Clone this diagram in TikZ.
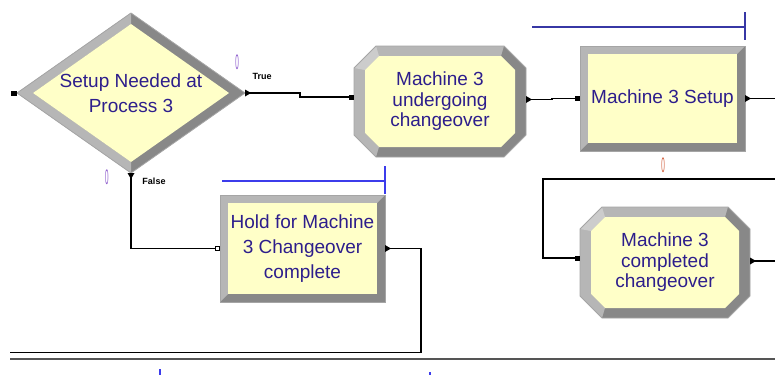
\documentclass[tikz,border=0pt]{standalone}
\usepackage{fontspec}
\setmainfont{Liberation Sans}
\usetikzlibrary{arrows.meta,shapes.geometric,calc}
\pgfdeclarelayer{background}
\pgfsetlayers{background,main}

\definecolor{modfill}{RGB}{255,255,200}
\definecolor{bevlight}{RGB}{182,182,182}
\definecolor{bevdark}{RGB}{136,136,136}
\definecolor{bevedge}{RGB}{165,165,165}
\definecolor{modtext}{RGB}{45,30,140}
\definecolor{queuenavy}{RGB}{55,55,165}
\definecolor{queueblue}{RGB}{60,60,235}
\definecolor{countpurple}{RGB}{140,90,205}
\definecolor{countorange}{RGB}{210,95,60}
\definecolor{rulegray}{RGB}{85,85,85}

\tikzset{
  module/.style={shape=rectangle, inner sep=0pt, outer sep=0pt, align=center,
    text=modtext, font=\fontsize{19}{20.5}\selectfont},
  conn/.style={draw=black, line width=1.1pt},
  entrysq/.style={-{Square[length=5pt,width=5pt]}},
  holdsq/.style={-{Square[open,length=5pt,width=5pt]}},
  counter/.style={font=\fontsize{21}{21}\selectfont, inner sep=0pt},
  branch/.style={font=\bfseries\fontsize{9}{9}\selectfont, inner sep=0pt},
}

% bevelled rectangle behind a module node
\newcommand\rectbevel[2]{%
  \begin{pgfonlayer}{background}
    \fill[bevdark] (#1.north west) rectangle (#1.south east);
    \fill[bevlight] (#1.south west) -- (#1.north west) -- (#1.north east)
      -- ([shift={(-#2,-#2)}]#1.north east) -- ([shift={(#2,-#2)}]#1.north west)
      -- ([shift={(#2,#2)}]#1.south west) -- cycle;
    \fill[modfill] ([shift={(#2,-#2)}]#1.north west) rectangle ([shift={(-#2,#2)}]#1.south east);
    \draw[bevedge, line width=0.8pt] (#1.north west) rectangle (#1.south east);
  \end{pgfonlayer}}

% bevelled octagon behind a module node
\newcommand\octbevel[1]{%
  \begin{pgfonlayer}{background}
    \path
      ([xshift=22pt]#1.north west) coordinate (#1-A)
      ([xshift=-22pt]#1.north east) coordinate (#1-B)
      ([yshift=-22pt]#1.north east) coordinate (#1-C)
      ([yshift=22pt]#1.south east) coordinate (#1-D)
      ([xshift=-22pt]#1.south east) coordinate (#1-E)
      ([xshift=22pt]#1.south west) coordinate (#1-F)
      ([yshift=22pt]#1.south west) coordinate (#1-G)
      ([yshift=-22pt]#1.north west) coordinate (#1-H)
      ([shift={(25pt,-10pt)}]#1.north west) coordinate (#1-a)
      ([shift={(-25pt,-10pt)}]#1.north east) coordinate (#1-b)
      ([shift={(-11pt,-24pt)}]#1.north east) coordinate (#1-c)
      ([shift={(-11pt,24pt)}]#1.south east) coordinate (#1-d)
      ([shift={(-25pt,10pt)}]#1.south east) coordinate (#1-e)
      ([shift={(25pt,10pt)}]#1.south west) coordinate (#1-f)
      ([shift={(11pt,24pt)}]#1.south west) coordinate (#1-g)
      ([shift={(11pt,-24pt)}]#1.north west) coordinate (#1-h);
    \fill[bevdark] (#1-A) -- (#1-B) -- (#1-C) -- (#1-D) -- (#1-E) -- (#1-F) -- (#1-G) -- (#1-H) -- cycle;
    \fill[bevlight] (#1-B) -- (#1-A) -- (#1-H) -- (#1-G) -- (#1-F) -- (#1-f) -- (#1-g) -- (#1-h) -- (#1-a) -- (#1-b) -- cycle;
    \fill[bevlight!70!white] (#1-A) -- (#1-H) -- (#1-h) -- (#1-a) -- cycle;
    \fill[modfill] (#1-a) -- (#1-b) -- (#1-c) -- (#1-d) -- (#1-e) -- (#1-f) -- (#1-g) -- (#1-h) -- cycle;
    \draw[bevedge, line width=0.8pt] (#1-A) -- (#1-B) -- (#1-C) -- (#1-D) -- (#1-E) -- (#1-F) -- (#1-G) -- (#1-H) -- cycle;
  \end{pgfonlayer}}

% small triangle marking an exit point
\newcommand\exitmark[2]{%
  \fill ($(#1)+(#2+90:3.5pt)$) -- ($(#1)+(#2:6pt)$) -- ($(#1)+(#2-90:3.5pt)$) -- cycle;}

\begin{document}
\begin{tikzpicture}[x=1pt,y=-1pt]
  \useasboundingbox (0,0) rectangle (775,375);
  \begin{pgfonlayer}{background}
    \fill[white] (0,0) rectangle (775,375);
  \end{pgfonlayer}

  % decision
  \node[module, shape=diamond, shape aspect=1.425, minimum width=228pt, minimum height=160pt,
        font=\fontsize{19}{25}\selectfont] (decide) at (131,93) {Setup Needed at\\Process 3};
  \begin{pgfonlayer}{background}
    \fill[bevdark] (decide.west) -- (decide.north) -- (decide.east) -- (decide.south) -- cycle;
    \fill[bevlight] (decide.north) -- (decide.west) -- (decide.south) -- ([yshift=11pt]decide.south)
      -- ([xshift=16pt]decide.west) -- ([yshift=-11pt]decide.north) -- cycle;
    \fill[modfill] ([xshift=16pt]decide.west) -- ([yshift=-11pt]decide.north)
      -- ([xshift=-16pt]decide.east) -- ([yshift=11pt]decide.south) -- cycle;
    \draw[bevedge, line width=0.8pt] (decide.west) -- (decide.north) -- (decide.east) -- (decide.south) -- cycle;
  \end{pgfonlayer}

  % modules
  \node[module, minimum width=172pt, minimum height=111pt] (change) at (440,101.5)
    {Machine 3\\undergoing\\changeover};
  \octbevel{change}
  \node[module, minimum width=165pt, minimum height=105pt] (setup) at (662.5,98.5)
    {Machine 3 Setup};
  \rectbevel{setup}{8pt}
  \node[module, minimum width=165pt, minimum height=107pt, font=\fontsize{19}{25}\selectfont]
    (hold) at (302.5,248.5) {Hold for Machine\\3 Changeover\\complete};
  \rectbevel{hold}{8pt}
  \node[module, minimum width=170pt, minimum height=111pt] (complete) at (665,262.5)
    {Machine 3\\completed\\changeover};
  \octbevel{complete}

  % queues
  \draw[draw=queuenavy, line width=1.3pt] (532,27) -- (745,27) (745,12) -- (745,40);
  \draw[draw=queueblue, line width=1.3pt] (222,181) -- (385,181) (385,166) -- (385,194);
  \draw[draw=queueblue, line width=1.5pt] (160,369) -- (160,375) (430,372) -- (430,375);

  % free ends of connectors
  \coordinate (flowout) at (775,98.5);
  \coordinate (loopin) at (775,179);
  \coordinate (loopturn) at (543,179);
  \coordinate (doneout) at (775,261);
  \coordinate (holdturn) at (421,352.5);
  \coordinate (holdret) at (10,352.5);

  % connectors
  \fill ([xshift=-3.5pt]decide.west) +(-3pt,-2.5pt) rectangle +(3pt,2.5pt);
  \draw[conn, entrysq] (decide.east) -- ++(55pt,0pt) |- ([yshift=4.5pt]change.west);
  \exitmark{decide.east}{0}
  \draw[conn, holdsq] (decide.south) |- (hold.west);
  \exitmark{decide.south}{-90}
  \draw[conn, entrysq] ([yshift=2pt]change.east) -- ++(26pt,0pt) |- (setup.west);
  \exitmark{[yshift=2pt]change.east}{0}
  \draw[conn] (setup.east) -- (flowout);
  \exitmark{setup.east}{0}
  \draw[conn, entrysq] (loopin) -- (loopturn) |- ([yshift=4.5pt]complete.west);
  \draw[conn] ([yshift=1.5pt]complete.east) -- (doneout);
  \exitmark{[yshift=1.5pt]complete.east}{0}
  \draw[conn] (hold.east) -| (holdturn) -- (holdret);
  \exitmark{hold.east}{0}
  \draw[rulegray, line width=1.5pt] (10,359) -- (775,359);

  % branch labels and counters
  \node[branch] (truelbl) at (262,76) {True};
  \node[branch] (falselbl) at (154,181) {False};
  \node[counter, text=countpurple] (cnttrue) at (237,62) {\scalebox{0.3}[1]{0}};
  \node[counter, text=countpurple] (cntfalse) at (107,177) {\scalebox{0.3}[1]{0}};
  \node[counter, text=countorange] (cntsetup) at (663,165) {\scalebox{0.3}[1]{0}};
\end{tikzpicture}
\end{document}
